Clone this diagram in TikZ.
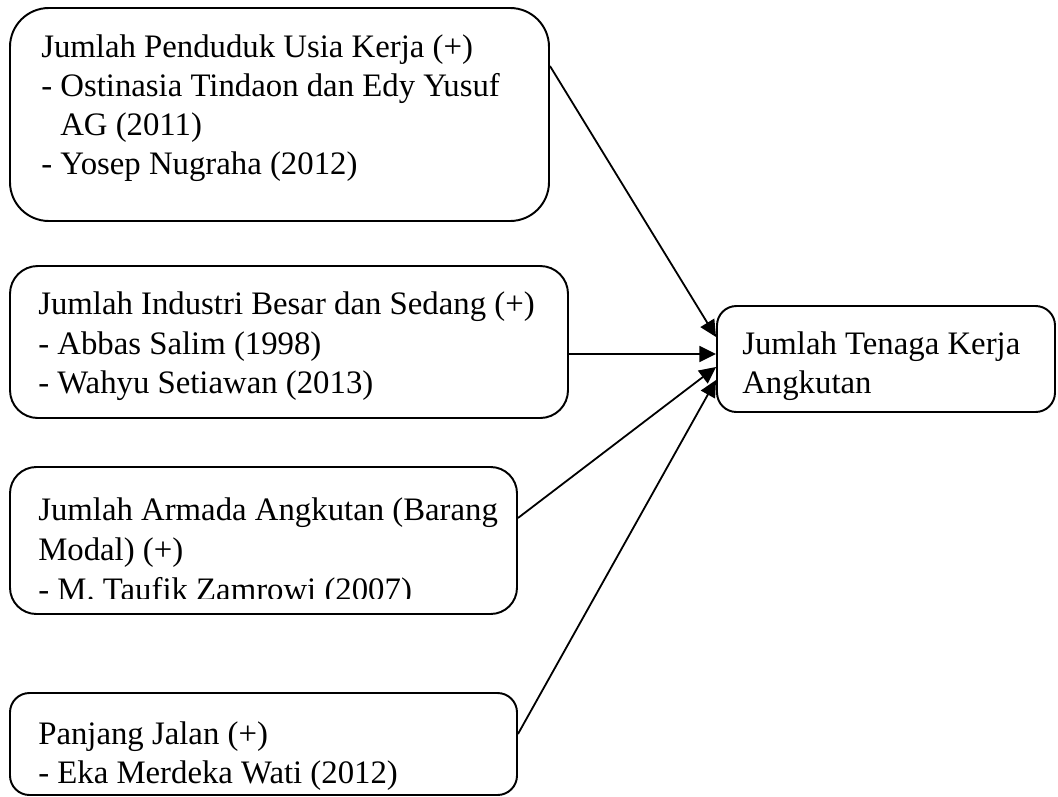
\documentclass[tikz,border=0pt]{standalone}
\usepackage{fontspec}
\setmainfont{Liberation Serif}
\usetikzlibrary{arrows.meta,fit}
\begin{document}
\begin{tikzpicture}[x=0.72pt,y=-0.72pt,
  box/.style={draw,line width=1.4pt,inner sep=0pt},
  txt/.style={anchor=base west,inner sep=0pt,font=\fontsize{23.6}{29}\selectfont},
  arr/.style={line width=1.3pt,-{Triangle[length=12pt,width=11.5pt]}}]
\useasboundingbox (0,0) rectangle (1058,797);
% boxes
\node[box,rounded corners=28pt,fit={(10,8) (549,221)}] (b1) {};
\node[box,rounded corners=20pt,fit={(10,266) (568,418)}] (b2) {};
\node[box,rounded corners=19pt,fit={(10,467) (517,614)}] (b3) {};
\node[box,rounded corners=14pt,fit={(10,693) (517,795)}] (b4) {};
\node[box,rounded corners=14pt,fit={(717,306) (1055,412)}] (t) {};
% texts
\node[txt] (b1l1) at (41,57) {Jumlah Penduduk Usia Kerja (+)};
\node[txt] (b1l2) at (41,96) {- Ostinasia Tindaon dan Edy Yusuf};
\node[txt] (b1l3) at (60,135) {AG (2011)};
\node[txt] (b1l4) at (41,174) {- Yosep Nugraha (2012)};
\node[txt] (b2l1) at (38,314) {Jumlah Industri Besar dan Sedang (+)};
\node[txt] (b2l2) at (38,354) {- Abbas Salim (1998)};
\node[txt] (b2l3) at (38,393) {- Wahyu Setiawan (2013)};
\node[txt] (b3l1) at (38,520) {Jumlah Armada Angkutan (Barang};
\node[txt] (b3l2) at (38,560) {Modal) (+)};
\begin{scope}
\clip (12,570) rectangle (515,598);
\node[txt] (b3l3) at (38,600) {- M. Taufik Zamrowi (2007)};
\end{scope}
\node[txt] (b4l1) at (38,744) {Panjang Jalan (+)};
\node[txt] (b4l2) at (38,783) {- Eka Merdeka Wati (2012)};
\node[txt] (tl1) at (742,354) {Jumlah Tenaga Kerja};
\node[txt] (tl2) at (742,393) {Angkutan};
% connectors
\draw[arr] (b1.east |- 0,66) -- (t.west |- 0,337);
\draw[arr] (b2.east |- 0,354) -- (t.west |- 0,354);
\draw[arr] (b3.east |- 0,518) -- (t.west |- 0,367);
\draw[arr] (b4.east |- 0,734) -- (t.west |- 0,380);
\end{tikzpicture}
\end{document}
